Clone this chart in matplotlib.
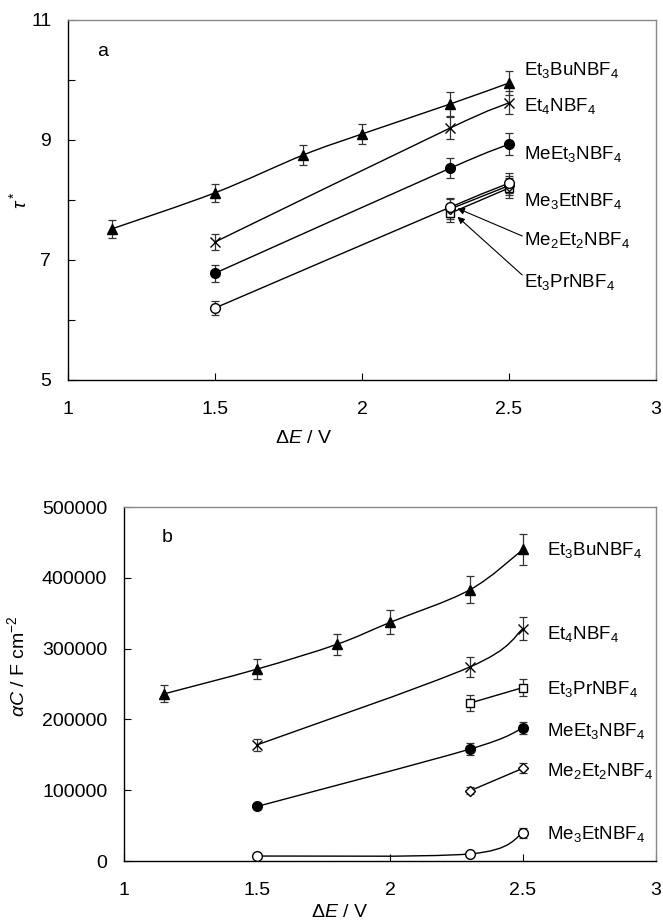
import numpy as np
import matplotlib
matplotlib.use('Agg')
import matplotlib.pyplot as plt
from matplotlib.path import Path
from matplotlib.patches import PathPatch

plt.rcParams['font.family'] = ['Liberation Sans', 'DejaVu Sans']
plt.rcParams['mathtext.fontset'] = 'custom'
plt.rcParams['mathtext.rm'] = 'Liberation Sans'
plt.rcParams['mathtext.it'] = 'Liberation Sans:italic'

# ---- panel a: tau* vs dE ----
x_bu = [1.15, 1.5, 1.8, 2.0, 2.3, 2.5]
x_3 = [1.5, 2.3, 2.5]
x_2 = [2.3, 2.5]

tau_et3bu = [7.52, 8.12, 8.75, 9.10, 9.60, 9.95]
tau_et3bu_err = [0.15, 0.15, 0.17, 0.17, 0.20, 0.20]
tau_et4n = [7.30, 9.20, 9.62]
tau_et4n_err = [0.14, 0.18, 0.19]
tau_meet3 = [6.78, 8.53, 8.93]
tau_meet3_err = [0.14, 0.17, 0.18]
tau_me3et = [6.20, 7.88, 8.28]
tau_me3et_err = [0.12, 0.16, 0.17]
tau_me2et2 = [7.85, 8.24]
tau_me2et2_err = [0.16, 0.16]
tau_et3pr = [7.78, 8.20]
tau_et3pr_err = [0.15, 0.16]

# ---- panel b: alpha*C vs dE ----
ac_et3bu = [236000, 271000, 306000, 337000, 383000, 440000]
ac_et3bu_err = [12000, 14000, 15000, 17000, 19000, 22000]
ac_et4n = [164000, 274000, 328000]
ac_et4n_err = [8000, 14000, 16000]
ac_et3pr = [223000, 245000]
ac_et3pr_err = [11000, 12000]
ac_meet3 = [77000, 158000, 188000]
ac_meet3_err = [4000, 8000, 9000]
ac_me2et2 = [99000, 131000]
ac_me2et2_err = [5000, 7000]
ac_me3et = [7000, 10000, 39000]
ac_me3et_err = [1000, 1000, 7000]

names = [r'Et$_3$BuNBF$_4$', r'Et$_4$NBF$_4$', r'MeEt$_3$NBF$_4$',
         r'Me$_3$EtNBF$_4$', r'Me$_2$Et$_2$NBF$_4$', r'Et$_3$PrNBF$_4$']


def smooth_path(x, y, t=1/6.):
    # excel-like smoothed line, drawn as cubic bezier segments
    pts = np.column_stack([x, y]).astype(float)
    verts = [pts[0]]
    codes = [Path.MOVETO]
    n = len(pts)
    for i in range(n - 1):
        p0 = pts[i - 1] if i > 0 else pts[i]
        p1 = pts[i]
        p2 = pts[i + 1]
        p3 = pts[i + 2] if i + 2 < n else pts[i + 1]
        verts += [p1 + (p2 - p0) * t, p2 - (p3 - p1) * t, p2]
        codes += [Path.CURVE4] * 3
    return Path(verts, codes)


def series(ax, x, y, err, marker, ms, fc):
    ax.add_patch(PathPatch(smooth_path(x, y), fc='none', ec='black', lw=1.0, zorder=2))
    ax.errorbar(x, y, yerr=err, fmt='none', ecolor='#333333', elinewidth=0.9,
                capsize=3, capthick=0.9, zorder=3)
    ax.plot(x, y, ls='none', marker=marker, ms=ms, mfc=fc, mec='black',
            mew=1.0, zorder=4)


def style(ax):
    ax.tick_params(direction='in', length=5, width=0.8, labelsize=14,
                   top=False, right=False)
    ax.tick_params(axis='x', pad=15)
    ax.tick_params(axis='y', pad=12)
    for s in ['left', 'bottom']:
        ax.spines[s].set_color('black')
    for s in ['top', 'right']:
        ax.spines[s].set_color('#888888')
    for s in ax.spines.values():
        s.set_linewidth(1.0)


fig = plt.figure(figsize=(6.63, 9.21), dpi=100)

# panel a
ax1 = fig.add_axes([68 / 663, 1 - 380 / 921, 588 / 663, 360 / 921])
series(ax1, x_bu, tau_et3bu, tau_et3bu_err, '^', 7, 'black')
series(ax1, x_3, tau_et4n, tau_et4n_err, 'x', 7, 'black')
series(ax1, x_3, tau_meet3, tau_meet3_err, 'o', 7, 'black')
series(ax1, x_2, tau_et3pr, tau_et3pr_err, 's', 6, 'white')
series(ax1, x_2, tau_me2et2, tau_me2et2_err, 'D', 5, 'white')
series(ax1, x_3, tau_me3et, tau_me3et_err, 'o', 7, 'white')
ax1.set_xlim(1, 3)
ax1.set_ylim(5, 11)
ax1.set_xticks([1, 1.5, 2, 2.5, 3])
ax1.set_xticklabels(['1', '1.5', '2', '2.5', '3'])
ax1.set_yticks([5, 6, 7, 8, 9, 10, 11])
ax1.set_yticklabels(['5', '', '7', '', '9', '', '11'])
style(ax1)
ax1.set_xlabel(r'$\Delta E$ / V', fontsize=14)
ax1.xaxis.set_label_coords(0.40, -0.14)
ax1.set_ylabel(r'$\tau^*$', fontsize=14)
ax1.yaxis.set_label_coords(-0.065, 0.5)
ax1.text(0.05, 0.9, 'a', transform=ax1.transAxes, fontsize=14)

lab_a_y = [10.17, 9.57, 8.77, 7.98, 7.33, 6.63]
for nm, yy in zip(names, lab_a_y):
    ax1.text(2.55, yy, nm, fontsize=13.5, va='center', ha='left')
ax1.annotate('', xy=(2.325, 7.86), xytext=(2.545, 7.40),
             arrowprops=dict(arrowstyle='-|>', color='black', lw=0.8,
                             mutation_scale=10, shrinkA=0, shrinkB=0))
ax1.annotate('', xy=(2.325, 7.72), xytext=(2.545, 6.75),
             arrowprops=dict(arrowstyle='-|>', color='black', lw=0.8,
                             mutation_scale=10, shrinkA=0, shrinkB=0))

# panel b
ax2 = fig.add_axes([124 / 663, 1 - 861 / 921, 532 / 663, 354 / 921])
series(ax2, x_bu, ac_et3bu, ac_et3bu_err, '^', 7, 'black')
series(ax2, x_3, ac_et4n, ac_et4n_err, 'x', 7, 'black')
series(ax2, x_2, ac_et3pr, ac_et3pr_err, 's', 6, 'white')
series(ax2, x_3, ac_meet3, ac_meet3_err, 'o', 7, 'black')
series(ax2, x_2, ac_me2et2, ac_me2et2_err, 'D', 5, 'white')
series(ax2, x_3, ac_me3et, ac_me3et_err, 'o', 7, 'white')
ax2.set_xlim(1, 3)
ax2.set_ylim(0, 500000)
ax2.set_xticks([1, 1.5, 2, 2.5, 3])
ax2.set_xticklabels(['1', '1.5', '2', '2.5', '3'])
ax2.set_yticks([0, 100000, 200000, 300000, 400000, 500000])
ax2.set_yticklabels(['0', '100000', '200000', '300000', '400000', '500000'])
style(ax2)
ax2.set_xlabel(r'$\Delta E$ / V', fontsize=14)
ax2.xaxis.set_label_coords(0.406, -0.122)
ax2.set_ylabel(r'$\alpha C$ / F cm$^{-2}$', fontsize=14)
ax2.yaxis.set_label_coords(-0.18, 0.55)
ax2.text(0.07, 0.9, 'b', transform=ax2.transAxes, fontsize=14)

names_b = [names[0], names[1], names[5], names[2], names[4], names[3]]
lab_b_y = [439000, 320000, 243000, 184000, 127000, 38000]
for nm, yy in zip(names_b, lab_b_y):
    ax2.text(2.59, yy, nm, fontsize=13.5, va='center', ha='left')

fig.savefig('out.png', dpi=100)
